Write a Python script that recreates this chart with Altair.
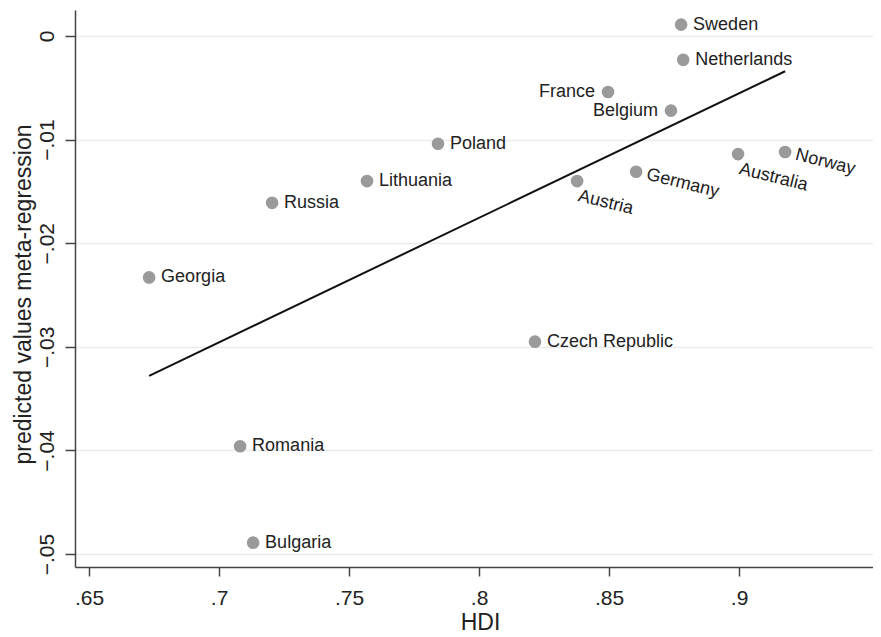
import altair as alt
import pandas as pd

# ---- data ----
countries = ["Sweden", "Netherlands", "France", "Belgium", "Austria", "Germany",
             "Australia", "Norway", "Poland", "Lithuania", "Russia", "Georgia",
             "Czech Republic", "Romania", "Bulgaria"]
hdi = [0.8777, 0.8785, 0.8496, 0.8738, 0.8377, 0.8604,
       0.8996, 0.9177, 0.7842, 0.7569, 0.7204, 0.6731,
       0.8215, 0.7081, 0.7131]
pred = [0.0011, -0.0023, -0.0054, -0.0072, -0.0140, -0.0131,
        -0.0114, -0.0112, -0.0104, -0.0140, -0.0161, -0.0233,
        -0.0295, -0.0396, -0.0489]

fit_hdi = [0.6731, 0.9177]
fit_pred = [-0.0328, -0.0034]

x_ticks = [0.65, 0.7, 0.75, 0.8, 0.85, 0.9]
y_ticks = [0, -0.01, -0.02, -0.03, -0.04, -0.05]

left_labelled = ["France", "Belgium"]
tilted_mid = ["Germany", "Norway"]
tilted_below = ["Austria", "Australia"]

df = pd.DataFrame({"country": countries, "hdi": hdi, "pred": pred})
fit = pd.DataFrame({"hdi": fit_hdi, "pred": fit_pred})

FONT = "Liberation Sans"
label_expr = "datum.value == 0 ? '0' : replace(format(datum.value, '.2~f'), '0.', '.')"

xs = alt.Scale(domain=[0.6446, 0.9515], nice=False, zero=False)
ys = alt.Scale(domain=[-0.05125, 0.00251], nice=False, zero=False)

xax = alt.Axis(values=x_ticks, labelExpr=label_expr, title="HDI", grid=False,
               tickSize=9, labelPadding=11, labelFontSize=21, titleFontSize=23,
               titleX=405, titleY=62, titleAlign="center", titleBaseline="alphabetic")
yax = alt.Axis(values=y_ticks, labelExpr=label_expr,
               title="predicted values meta-regression", grid=True,
               tickSize=10, labelPadding=12, labelFontSize=21, labelAngle=270,
               labelAlign="center", labelBaseline="alphabetic",
               titleFontSize=23, titleAngle=270, titleX=-45, titleY=284,
               titleAlign="center", titleBaseline="alphabetic")

X = alt.X("hdi:Q", scale=xs, axis=xax)
Y = alt.Y("pred:Q", scale=ys, axis=yax)

line = alt.Chart(fit).mark_line(color="#111111", strokeWidth=2).encode(x=X, y=Y)

base = alt.Chart(df).encode(x=X, y=Y)
points = base.mark_circle(size=160, color="#9a9a9a", opacity=1)

txt = dict(font=FONT, fontSize=18, color="#222222")
no_special = left_labelled + tilted_mid + tilted_below
lab_right = base.transform_filter(
    {"not": alt.FieldOneOfPredicate(field="country", oneOf=no_special)}
).mark_text(align="left", baseline="middle", dx=12, **txt).encode(text="country:N")
lab_left = base.transform_filter(
    alt.FieldOneOfPredicate(field="country", oneOf=left_labelled)
).mark_text(align="right", baseline="middle", dx=-13, **txt).encode(text="country:N")
lab_tmid = base.transform_filter(
    alt.FieldOneOfPredicate(field="country", oneOf=tilted_mid)
).mark_text(align="left", baseline="middle", dx=11, angle=14, **txt).encode(text="country:N")
lab_tbelow = base.transform_filter(
    alt.FieldOneOfPredicate(field="country", oneOf=tilted_below)
).mark_text(align="left", baseline="top", dx=5, dy=5, angle=14, **txt).encode(text="country:N")

chart = alt.layer(line, points, lab_right, lab_left, lab_tmid, lab_tbelow).properties(
    width=798, height=557,
    autosize=alt.AutoSizeParams(type="none"),
    padding={"left": 67, "top": 2, "right": 0, "bottom": 66},
    background="white",
).configure_view(strokeWidth=0).configure_axis(
    domainColor="#444444", domainWidth=1.5, tickColor="#444444", tickWidth=1.5,
    labelColor="#222222", titleColor="#222222", labelFont=FONT, titleFont=FONT,
    titleFontWeight="normal", gridColor="#ebebeb", gridWidth=1.5,
)

chart.save("out.html", embed_options={"renderer": "svg", "actions": False})
